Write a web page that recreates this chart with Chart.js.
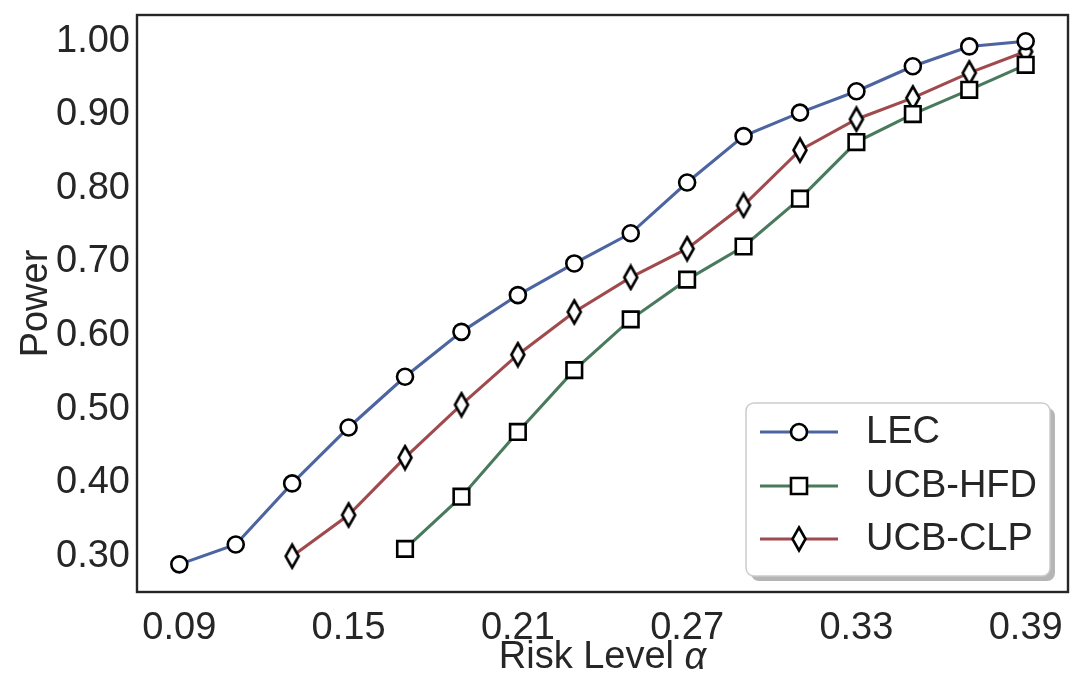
<!DOCTYPE html>
<html>
<head>
<meta charset="utf-8">
<script src="https://cdn.jsdelivr.net/npm/chart.js@4"></script>
<style>
html,body{margin:0;padding:0;background:#fff;}
#wrap{width:1083px;height:692px;position:relative;}
</style>
</head>
<body>
<div id="wrap"><canvas id="c" width="1083" height="692"></canvas></div>
<script>
// ---- data ----
const alphas = [0.09,0.11,0.13,0.15,0.17,0.19,0.21,0.23,0.25,0.27,0.29,0.31,0.33,0.35,0.37,0.39];
const lec    = [0.289,0.316,0.399,0.475,0.544,0.605,0.655,0.698,0.739,0.808,0.871,0.903,0.932,0.966,0.993,1.000];
const ucbHfd = [null,null,null,null,0.310,0.381,0.469,0.553,0.622,0.676,0.721,0.786,0.863,0.901,0.934,0.968];
const ucbClp = [null,null,0.300,0.356,0.434,0.506,0.574,0.632,0.679,0.718,0.777,0.852,0.894,0.923,0.957,0.986];
const seriesNames = ['LEC','UCB-HFD','UCB-CLP'];
const xTicks = [0.09,0.15,0.21,0.27,0.33,0.39];
const yTicks = [0.30,0.40,0.50,0.60,0.70,0.80,0.90,1.00];
const xTitleMain = 'Risk Level ';
const xTitleSym = 'α';

const FONT = "'Liberation Sans', Arial, Helvetica, sans-serif";
const FS = 38;
const TEXT = '#262626';
const colors = ['#4C64A0','#4A7A5E','#A04A4E'];

// thin diamond marker
function makeDiamond(){
  const cv = document.createElement('canvas');
  cv.width = 18; cv.height = 28;
  const g = cv.getContext('2d');
  g.fillStyle = '#fff'; g.strokeStyle = '#000'; g.lineWidth = 2.6; g.lineJoin='miter';
  g.beginPath();
  g.moveTo(9,2.5); g.lineTo(15.5,14); g.lineTo(9,25.5); g.lineTo(2.5,14); g.closePath();
  g.fill(); g.stroke();
  return cv;
}
const diamond = makeDiamond();

function pts(arr){ return alphas.map((a,i)=>({x:a,y:arr[i]})); }

const LW = 3.1;
const common = {borderWidth:LW, pointBackgroundColor:'#fff', pointBorderColor:'#000', pointBorderWidth:2.6, fill:false, tension:0, spanGaps:false};
const datasets = [
  Object.assign({label:seriesNames[0], data:pts(lec), borderColor:colors[0], pointStyle:'circle', pointRadius:8}, common),
  Object.assign({label:seriesNames[1], data:pts(ucbHfd), borderColor:colors[1], pointStyle:'rect', pointRadius:11}, common),
  Object.assign({label:seriesNames[2], data:pts(ucbClp), borderColor:colors[2], pointStyle:diamond, pointRadius:9}, common)
];

const framePlugin = {
  id:'frame',
  afterDatasetsDraw(chart){
    const {ctx, chartArea:a} = chart;
    ctx.save();
    ctx.strokeStyle = '#262626'; ctx.lineWidth = 2.4;
    ctx.strokeRect(a.left, a.top, a.right-a.left, a.bottom-a.top);
    ctx.restore();
  },
  afterDraw(chart){
    const ctx = chart.ctx;
    ctx.save();
    // x-axis title with italic alpha
    const a = chart.chartArea;
    ctx.fillStyle = TEXT; ctx.textBaseline = 'middle'; ctx.textAlign = 'left';
    ctx.font = FS+'px '+FONT;
    const w1 = ctx.measureText(xTitleMain).width;
    ctx.font = 'italic '+FS+'px '+FONT;
    const w2 = ctx.measureText(xTitleSym).width;
    const cx = (a.left + a.right)/2, ty = 658;
    let x0 = cx - (w1+w2)/2;
    ctx.font = FS+'px '+FONT; ctx.fillText(xTitleMain, x0, ty);
    ctx.font = 'italic '+FS+'px '+FONT; ctx.fillText(xTitleSym, x0+w1, ty);

    // legend
    const bx=746, by=403, bw=304, bh=173, r=8;
    function rr(x,y,w,h){ctx.beginPath();ctx.moveTo(x+r,y);ctx.arcTo(x+w,y,x+w,y+h,r);ctx.arcTo(x+w,y+h,x,y+h,r);ctx.arcTo(x,y+h,x,y,r);ctx.arcTo(x,y,x+w,y,r);ctx.closePath();}
    ctx.fillStyle='rgba(120,120,120,0.55)'; rr(bx+5,by+5,bw,bh); ctx.fill();
    ctx.fillStyle='#fff'; rr(bx,by,bw,bh); ctx.fill();
    ctx.strokeStyle='#cccccc'; ctx.lineWidth=1.5; rr(bx,by,bw,bh); ctx.stroke();
    const rows=[432,486,539];
    chart.data.datasets.forEach((ds,i)=>{
      const y=rows[i];
      ctx.strokeStyle=ds.borderColor; ctx.lineWidth=LW;
      ctx.beginPath(); ctx.moveTo(760,y); ctx.lineTo(838,y); ctx.stroke();
      ctx.fillStyle='#fff'; ctx.strokeStyle='#000'; ctx.lineWidth=2.6;
      if(ds.pointStyle==='circle'){ctx.beginPath();ctx.arc(799,y,8,0,Math.PI*2);ctx.fill();ctx.stroke();}
      else if(ds.pointStyle==='rect'){ctx.beginPath();ctx.rect(791,y-8,16,16);ctx.fill();ctx.stroke();}
      else {ctx.drawImage(diamond,799-9,y-14);}
      ctx.fillStyle=TEXT; ctx.font=FS+'px '+FONT; ctx.textBaseline='middle'; ctx.textAlign='left';
      ctx.fillText(ds.label,866,y+1);
    });
    ctx.restore();
  }
};

new Chart(document.getElementById('c'),{
  type:'line',
  data:{datasets},
  options:{
    responsive:false, animation:false, events:[],
    layout:{padding:{left:0,right:15,top:15,bottom:0}},
    plugins:{legend:{display:false}, tooltip:{enabled:false}},
    scales:{
      x:{type:'linear', min:0.075, max:0.405,
        grid:{display:false, drawTicks:false}, border:{display:false},
        afterBuildTicks(s){ s.ticks = xTicks.map(v=>({value:v})); },
        afterFit(s){ s.height = 100; s.paddingLeft = 0; s.paddingRight = 0; },
        ticks:{padding:14, color:TEXT, font:{family:FONT,size:FS}, maxRotation:0, autoSkip:false, callback:v=>v.toFixed(2)},
        title:{display:false}
      },
      y:{type:'linear', min:0.2514, max:1.0357,
        grid:{display:false, drawTicks:false}, border:{display:false},
        afterBuildTicks(s){ s.ticks = yTicks.map(v=>({value:v})); },
        afterFit(s){ s.width = 137; s.paddingTop = 0; s.paddingBottom = 0; },
        ticks:{padding:7, color:TEXT, font:{family:FONT,size:FS}, autoSkip:false, callback:v=>v.toFixed(2)},
        title:{display:true, text:'Power', color:TEXT, font:{family:FONT,size:FS,lineHeight:1.2}, padding:{top:14,bottom:0}}
      }
    }
  },
  plugins:[framePlugin]
});
</script>
</body>
</html>
